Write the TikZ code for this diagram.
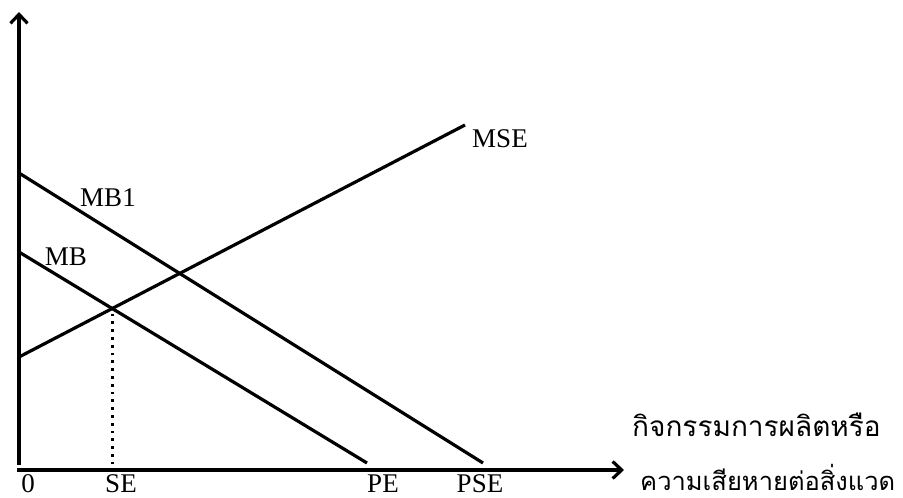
\documentclass[tikz,border=0pt]{standalone}
\usepackage{fontspec}
\setmainfont{Liberation Serif}
\newfontfamily\thaifont[Script=Thai]{Loma}
\usetikzlibrary{arrows.meta,intersections}
\begin{document}
\begin{tikzpicture}[x=1pt,y=-1pt,
  curve/.style={line width=3.2pt},
  axis/.style={line width=3.2pt,-{Straight Barb[length=9pt,width=17pt,line width=3.2pt]}},
  lbl/.style={font=\fontsize{27}{31}\selectfont, inner sep=0pt},
  bot/.style={lbl, anchor=base},
  thai/.style={font=\thaifont\fontsize{28}{33}\selectfont, inner sep=0pt, anchor=west}]
\useasboundingbox (0,0) rectangle (903,498);
% axes
\coordinate (O) at (19,470);
\coordinate (ytop) at (19,12);
\coordinate (ybot) at (19,465);
\coordinate (xl) at (17,470);
\coordinate (xr) at (624,470);
\draw[axis] (ybot) -- (ytop);
\draw[axis] (xl) -- (xr);
% curves
\coordinate (mb1a) at (19,173);
\coordinate (mb1b) at (483,463);
\coordinate (mba) at (19,252);
\coordinate (mbb) at (367,463);
\coordinate (msea) at (19,357);
\coordinate (mseb) at (465,125);
\draw[curve] (mb1a) -- (mb1b);
\draw[curve, name path=mb] (mba) -- (mbb);
\draw[curve, name path=mse] (msea) -- (mseb);
\path[name intersections={of=mb and mse, by=E}];
\coordinate (Ex) at ([yshift=6pt]E |- O);
\draw[line width=2.8pt, dash pattern=on 2.8pt off 5pt] ([yshift=-5pt]E) -- (Ex);
% labels
\node[lbl] (lmb1) at (108,198) {MB1};
\node[lbl] (lmb) at (66,257) {MB};
\node[lbl] (lmse) at (500,139) {MSE};
\node[bot] (l0) at (28,492) {0};
\node[bot] (lse) at (121,492) {SE};
\node[bot] (lpe) at (383,492) {PE};
\node[bot] (lpse) at (480,492) {PSE};
\node[thai] (t1) at (632,425) {กิจกรรมการผลิตหรือ};
\node[thai, font=\thaifont\fontsize{25.5}{30}\selectfont] (t2) at (640,477) {ความเสียหายต่อสิ่งแวด};
\end{tikzpicture}
\end{document}
